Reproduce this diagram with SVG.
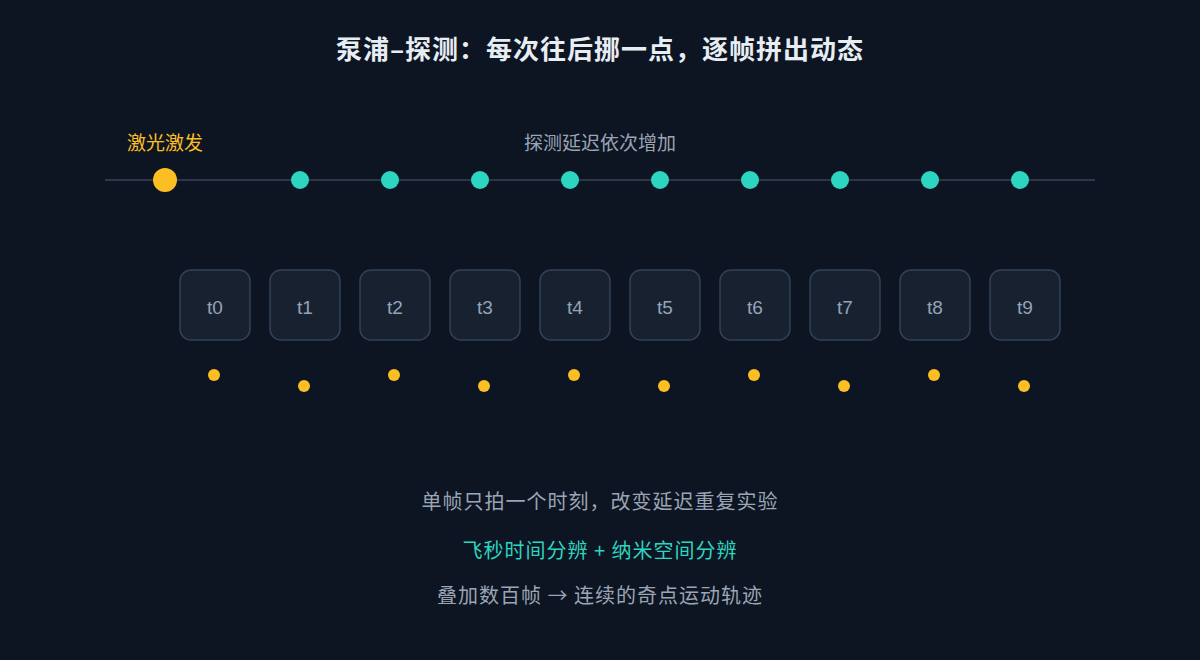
<svg xmlns="http://www.w3.org/2000/svg" width="1200" height="660" viewBox="0 0 1200 660">
<style>
text{font-family:"Noto Sans CJK SC","Noto Sans",sans-serif;text-anchor:middle}
.box{fill:#172130;stroke:#334155;stroke-width:1.5}
.bl{fill:#94a3b8;font-size:19px;font-family:"Liberation Sans",sans-serif}
.td{fill:#2dd4bf}
.yd{fill:#fbbf24}
.g{fill:#9aa5b5;font-size:19px}
.b{font-size:20px;letter-spacing:1px}
</style>
<rect width="1200" height="660" fill="#0d1422"/>
<text x="600" y="59" fill="#e6edf3" font-size="26" font-weight="bold" letter-spacing="1">泵浦–探测：每次往后挪一点，逐帧拼出动态</text>
<text x="165" y="150" fill="#fbbf24" font-size="19">激光激发</text>
<text x="600" y="150" class="g" font-size="18">探测延迟依次增加</text>
<g id="connectors"><line x1="105" y1="180" x2="1095" y2="180" stroke="#2d3748" stroke-width="2"/></g>
<g id="pump"><circle cx="165" cy="180" r="12" class="yd"/></g>
<g id="probes">
<circle cx="300" cy="180" r="9" class="td"/><circle cx="390" cy="180" r="9" class="td"/><circle cx="480" cy="180" r="9" class="td"/><circle cx="570" cy="180" r="9" class="td"/><circle cx="660" cy="180" r="9" class="td"/><circle cx="750" cy="180" r="9" class="td"/><circle cx="840" cy="180" r="9" class="td"/><circle cx="930" cy="180" r="9" class="td"/><circle cx="1020" cy="180" r="9" class="td"/>
</g>
<g id="frames">
<g id="t0"><rect x="180" y="270" width="70" height="70" rx="11" class="box"/><text x="215" y="314" class="bl">t0</text><circle cx="214" cy="375" r="6" class="yd"/></g>
<g id="t1"><rect x="270" y="270" width="70" height="70" rx="11" class="box"/><text x="305" y="314" class="bl">t1</text><circle cx="304" cy="386" r="6" class="yd"/></g>
<g id="t2"><rect x="360" y="270" width="70" height="70" rx="11" class="box"/><text x="395" y="314" class="bl">t2</text><circle cx="394" cy="375" r="6" class="yd"/></g>
<g id="t3"><rect x="450" y="270" width="70" height="70" rx="11" class="box"/><text x="485" y="314" class="bl">t3</text><circle cx="484" cy="386" r="6" class="yd"/></g>
<g id="t4"><rect x="540" y="270" width="70" height="70" rx="11" class="box"/><text x="575" y="314" class="bl">t4</text><circle cx="574" cy="375" r="6" class="yd"/></g>
<g id="t5"><rect x="630" y="270" width="70" height="70" rx="11" class="box"/><text x="665" y="314" class="bl">t5</text><circle cx="664" cy="386" r="6" class="yd"/></g>
<g id="t6"><rect x="720" y="270" width="70" height="70" rx="11" class="box"/><text x="755" y="314" class="bl">t6</text><circle cx="754" cy="375" r="6" class="yd"/></g>
<g id="t7"><rect x="810" y="270" width="70" height="70" rx="11" class="box"/><text x="845" y="314" class="bl">t7</text><circle cx="844" cy="386" r="6" class="yd"/></g>
<g id="t8"><rect x="900" y="270" width="70" height="70" rx="11" class="box"/><text x="935" y="314" class="bl">t8</text><circle cx="934" cy="375" r="6" class="yd"/></g>
<g id="t9"><rect x="990" y="270" width="70" height="70" rx="11" class="box"/><text x="1025" y="314" class="bl">t9</text><circle cx="1024" cy="386" r="6" class="yd"/></g>
</g>
<text x="600" y="509" class="g b">单帧只拍一个时刻，改变延迟重复实验</text>
<text x="600" y="558" fill="#2dd4bf" class="b">飞秒时间分辨 + 纳米空间分辨</text>
<text x="600" y="603" class="g b">叠加数百帧 → 连续的奇点运动轨迹</text>
</svg>
